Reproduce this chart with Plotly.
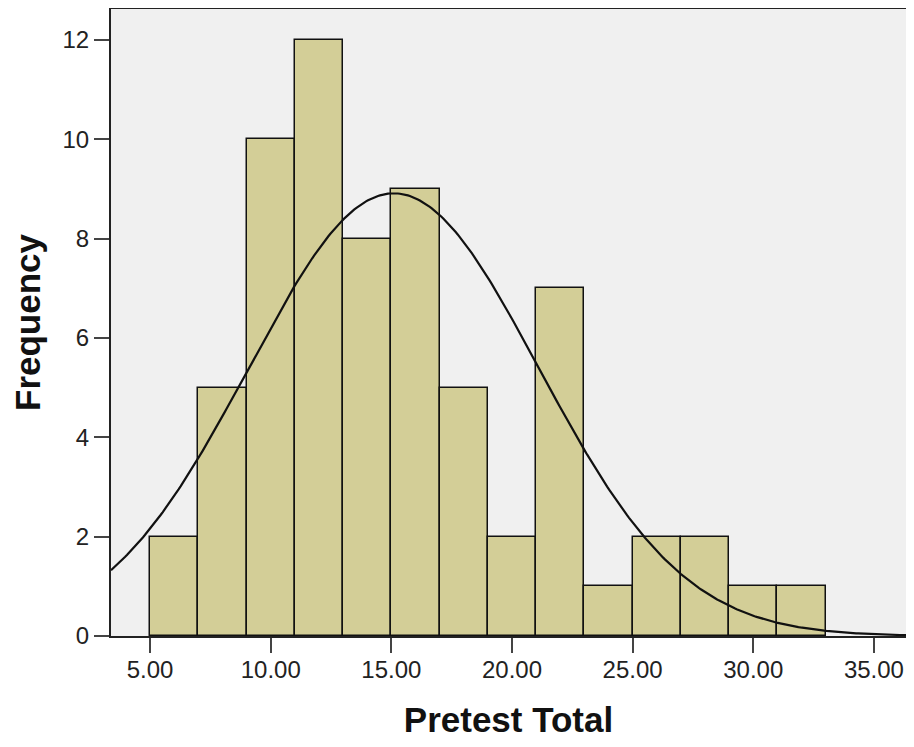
import numpy as np
import plotly.graph_objects as go

# Histogram data (Pretest Total), bins of width 2 starting at 5
bin_left = [5, 7, 9, 11, 13, 15, 17, 19, 21, 23, 25, 27, 29, 31]
counts = [2, 5, 10, 12, 8, 9, 5, 2, 7, 1, 2, 2, 1, 1]
bin_width = 2

# Fitted normal curve parameters
curve_mean = 15.1
curve_sd = 6.0

x_tick_vals = [5, 10, 15, 20, 25, 30, 35]
x_tick_text = ["5.00", "10.00", "15.00", "20.00", "25.00", "30.00", "35.00"]
y_tick_vals = [0, 2, 4, 6, 8, 10, 12]

x_range = [3.38, 36.33]
y_range = [0, 12.62]

centers = [b + bin_width / 2 for b in bin_left]
n_total = sum(counts)
xs = np.linspace(x_range[0], x_range[1], 400)
ys = n_total * bin_width / (curve_sd * np.sqrt(2 * np.pi)) * np.exp(-0.5 * ((xs - curve_mean) / curve_sd) ** 2)

font_family = "Arial, 'Liberation Sans', sans-serif"

fig = go.Figure()
fig.add_trace(go.Bar(
    x=centers, y=counts, width=bin_width,
    marker=dict(color="#d3ce97", line=dict(color="#111111", width=1.5)),
    showlegend=False, hoverinfo="x+y",
))
fig.add_trace(go.Scatter(
    x=xs, y=ys, mode="lines",
    line=dict(color="#111111", width=2.2),
    showlegend=False, hoverinfo="skip",
))

fig.update_layout(
    width=898, height=731,
    margin=dict(l=103, r=0, t=1, b=103),
    paper_bgcolor="white",
    plot_bgcolor="#f0f0f0",
    bargap=0,
    font=dict(family=font_family, color="#222222"),
)
fig.update_xaxes(
    range=x_range, tickvals=x_tick_vals, ticktext=x_tick_text,
    showgrid=False, zeroline=False,
    showline=True, linecolor="#222222", linewidth=2, mirror=True,
    ticks="outside", ticklen=15, tickwidth=2, tickcolor="#444444",
    tickfont=dict(size=24, color="#222222"),
    ticklabelstandoff=-4,
    title=dict(text="<b>Pretest Total</b>", font=dict(size=35, color="#111111"), standoff=32),
)
fig.update_yaxes(
    range=y_range, tickvals=y_tick_vals,
    showgrid=False, zeroline=False,
    showline=True, linecolor="#222222", linewidth=2, mirror=False,
    ticks="outside", ticklen=15, tickwidth=2, tickcolor="#444444",
    tickfont=dict(size=24, color="#222222"),
    title=dict(text="<b>Frequency</b>", font=dict(size=35, color="#111111"), standoff=19),
)

fig.write_html("out.html")
